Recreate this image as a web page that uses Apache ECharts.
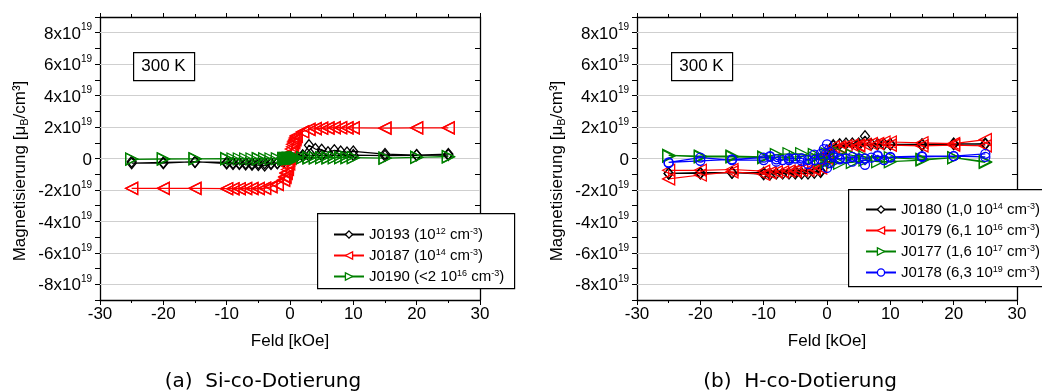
<!DOCTYPE html>
<html><head><meta charset="utf-8">
<script src="https://cdn.jsdelivr.net/npm/echarts@6/dist/echarts.min.js"></script>
<style>html,body{margin:0;padding:0;background:#fff}#c{width:1042px;height:392px}</style>
</head><body><div id="c"></div>
<script>
// ---- data (magnetisation in units of 1e19 muB/cm^3, field in kOe) ----
const xTickValues = [-30, -20, -10, 0, 10, 20, 30];
const yTickValues = [-8, -6, -4, -2, 0, 2, 4, 6, 8];   // labels "N x10^19"
const tempLabel = '300 K';
const captionA = '(a)  Si-co-Dotierung';
const captionB = '(b)  H-co-Dotierung';

// (a) Si-co-Dotierung
const J0193 = [[25,0.28],[20,0.22],[15,0.28],[10,0.45],[9,0.38],[8,0.45],[7,0.52],[6,0.4],[5,0.55],[4,0.6],[3,0.85],[2,0.2],[1,0.1],[0,0],[-1,-0.2],[-2,-0.3],[-3,-0.35],[-4,-0.45],[-5,-0.42],[-6,-0.4],[-7,-0.38],[-8,-0.35],[-9,-0.35],[-10,-0.32],[-15,-0.2],[-20,-0.3],[-25,-0.3],
  [-25,-0.2],[-20,-0.25],[-15,-0.22],[-10,-0.25],[-9,-0.28],[-8,-0.3],[-7,-0.3],[-6,-0.32],[-5,-0.3],[-4,-0.3],[-3,-0.3],[-2,-0.28],[-1,-0.15],[0,0],[1,0.1],[2,0.15],[3,0.18],[5,0.2],[10,0.22],[15,0.18],[20,0.2],[25,0.22]];
const J0187 = [[25,1.95],[20,1.95],[15,1.93],[10,1.95],[9,1.95],[8,1.97],[7,1.97],[6,1.95],[5,1.93],[4,1.9],[3,1.85],[2,1.7],[1,1.45],[0.8,1.3],[0.6,1.1],[0.4,0.9],[0.2,0.6],[0,0.3],[-0.2,-0.1],[-0.4,-0.5],[-0.6,-0.9],[-0.8,-1.2],[-1,-1.4],[-2,-1.65],[-3,-1.8],[-4,-1.9],[-5,-1.92],[-6,-1.92],[-7,-1.92],[-8,-1.92],[-9,-1.93],[-10,-1.92],[-15,-1.9],[-20,-1.9],[-25,-1.9],
  [-25,-1.9],[-20,-1.9],[-15,-1.9],[-10,-1.92],[-9,-1.92],[-8,-1.92],[-7,-1.9],[-6,-1.9],[-5,-1.9],[-4,-1.88],[-3,-1.8],[-2,-1.65],[-1,-1.35],[-0.8,-1.15],[-0.6,-0.95],[-0.4,-0.7],[-0.2,-0.35],[0,0],[0.2,0.4],[0.4,0.75],[0.6,1.0],[0.8,1.2],[1,1.4],[2,1.7],[3,1.85],[4,1.9],[5,1.92],[6,1.93],[7,1.95],[8,1.95],[9,1.95],[10,1.95],[15,1.93],[20,1.95],[25,1.95]];
const J0190 = [[25,0.1],[20,0.08],[15,0.02],[10,0.05],[9,0.05],[8,0.05],[7,0.05],[6,0.04],[5,0.05],[4,0.04],[3,0.04],[2,0.05],[1,0.04],[0.8,0.03],[0.6,0.03],[0.4,0.02],[0.2,0.01],[0,0],[-0.2,0],[-0.4,-0.01],[-0.6,-0.01],[-0.8,-0.02],[-1,-0.02],[-2,-0.02],[-3,-0.03],[-4,-0.02],[-5,-0.03],[-6,-0.03],[-7,-0.03],[-8,-0.03],[-9,-0.03],[-10,-0.02],[-15,-0.02],[-20,-0.04],[-25,-0.05],
  [-25,-0.03],[-20,-0.02],[-15,-0.02],[-10,-0.01],[-5,-0.01],[-1,-0.01],[-0.8,0],[-0.6,0],[-0.4,0.01],[-0.2,0.01],[0,0.02],[0.2,0.02],[0.4,0.03],[0.6,0.03],[0.8,0.04],[1,0.04],[2,0.05],[3,0.05],[4,0.05],[5,0.05],[6,0.05],[7,0.05],[8,0.06],[9,0.06],[10,0.06],[15,0.03],[20,0.07],[25,0.12]];

// (b) H-co-Dotierung
const J0180 = [[25,0.95],[20,0.9],[15,0.85],[10,0.9],[9,0.9],[8,0.9],[7,0.9],[6,1.42],[5,0.95],[4,0.95],[3,0.95],[2,0.9],[1,0.85],[0,0.3],[-1,-0.85],[-2,-0.9],[-3,-0.95],[-4,-0.95],[-5,-0.95],[-6,-0.95],[-7,-0.95],[-8,-0.95],[-9,-1.0],[-10,-1.0],[-15,-0.9],[-20,-0.95],[-25,-0.95],
  [-25,-0.95],[-20,-0.9],[-15,-0.9],[-10,-0.9],[-5,-0.85],[-1,-0.8],[0,0],[1,0.8],[5,0.85],[10,0.9],[15,0.9],[20,0.95],[25,0.9]];
const J0179 = [[25,1.2],[20,0.95],[15,1.0],[10,1.05],[9,1.05],[8,0.95],[7,0.95],[6,0.9],[5,0.85],[4,0.85],[3,0.8],[2,0.75],[1,0.75],[0,0.3],[-1,-0.6],[-2,-0.65],[-3,-0.75],[-4,-0.75],[-5,-0.8],[-6,-0.8],[-7,-0.85],[-8,-0.85],[-9,-0.9],[-10,-1.0],[-15,-0.85],[-20,-1.05],[-25,-1.3],
  [-25,-0.75],[-20,-0.75],[-15,-0.7],[-10,-0.8],[-5,-0.75],[-2,-0.7],[0,0],[2,0.7],[5,0.8],[10,0.85],[15,0.8],[20,0.85],[25,0.8]];
const J0177 = [[25,-0.25],[20,0.05],[15,-0.1],[10,-0.2],[8,-0.2],[6,-0.1],[4,-0.25],[2,-0.3],[1,-0.25],[0,-0.2],[-1,-0.1],[-2,0.05],[-4,0.3],[-6,0.3],[-8,0.25],[-10,0.1],[-15,0.15],[-20,0.15],[-25,0.2],
  [-25,0.15],[-20,0.1],[-15,0.1],[-10,0.05],[-5,0.1],[-2,0.25],[0,0.3],[2,0.35],[4,0.2],[6,0.1],[10,0.05],[15,-0.05],[20,0.05],[25,-0.2]];
const J0178 = [[25,0.3],[20,0.15],[15,0.15],[10,0.1],[9,-0.1],[8,0.2],[7,0.05],[6,-0.4],[5,0.0],[4,-0.2],[3,0.0],[2,-0.05],[1,0.2],[0.5,0.4],[0,0.9],[-0.5,0.6],[-1,0.3],[-2,0.25],[-3,-0.1],[-4,0.0],[-5,0.0],[-6,0.0],[-7,-0.1],[-8,-0.2],[-9,0.1],[-10,-0.1],[-15,-0.1],[-20,0.05],[-25,-0.25],
  [-25,-0.3],[-20,-0.15],[-15,-0.05],[-10,0.05],[-9,0.15],[-8,-0.05],[-6,-0.1],[-4,-0.15],[-3,-0.35],[-2,-0.1],[-1,-0.05],[0,-0.6],[0.5,-0.3],[1,0.1],[2,0.0],[4,0.1],[6,0.0],[8,0.15],[10,0.05],[15,0.1],[20,0.15],[25,0.1]];

const legendA = {J0193:'J0193 (10{s|12} cm{s|-3})', J0187:'J0187 (10{s|14} cm{s|-3})', J0190:'J0190 (<2 10{s|16} cm{s|-3})'};
const legendB = {J0180:'J0180 (1,0 10{s|14} cm{s|-3})', J0179:'J0179 (6,1 10{s|16} cm{s|-3})', J0177:'J0177 (1,6 10{s|17} cm{s|-3})', J0178:'J0178 (6,3 10{s|19} cm{s|-3})'};

// ---- chart ----
const FONT = "'Liberation Sans', Arial, sans-serif";
const chart = echarts.init(document.getElementById('c'), null, {renderer:'canvas'});
const grids = [{left:100, top:17, width:380, height:283}, {left:637, top:17, width:380, height:283}];

function xAxes(g){
  return [{
    gridIndex:g, type:'value', min:-30, max:30, interval:10,
    axisLine:{onZero:false, lineStyle:{color:'#000', width:1.3}},
    axisTick:{inside:false, length:5, lineStyle:{color:'#000'}},
    minorTick:{show:true, splitNumber:2, length:3, lineStyle:{color:'#000'}},
    axisLabel:{fontSize:17, color:'#000', fontFamily:FONT, margin:6},
    splitLine:{show:false},
    name:'Feld [kOe]', nameLocation:'middle', nameGap:33,
    nameTextStyle:{fontSize:17, color:'#000', fontFamily:FONT}
  },{
    gridIndex:g, type:'value', position:'top', min:-30, max:30, interval:10,
    axisLine:{onZero:false, lineStyle:{color:'#000', width:1.3}},
    axisTick:{inside:false, length:4, lineStyle:{color:'#000'}},
    minorTick:{show:true, splitNumber:2, length:3, lineStyle:{color:'#000'}},
    axisLabel:{show:false}, splitLine:{show:false}
  }];
}
function yAxes(g){
  return [{
    gridIndex:g, type:'value', min:-9, max:9, interval:1,
    axisLine:{onZero:false, lineStyle:{color:'#000', width:1.3}},
    axisTick:{inside:false, length:5, lineStyle:{color:'#000'}},
    axisLabel:{margin:8, color:'#000', fontFamily:FONT,
      formatter: v => yTickValues.indexOf(v) < 0 ? '' : (v === 0 ? '{a|0}' : '{a|' + v + 'x10}{s|19}'),
      rich:{a:{fontSize:17, fontFamily:FONT, color:'#000', lineHeight:20, verticalAlign:'bottom'},
            s:{fontSize:10, fontFamily:FONT, color:'#000', lineHeight:10, verticalAlign:'top'}}},
    splitLine:{show:false}
  },{
    gridIndex:g, type:'value', position:'right', min:-9, max:9, interval:1,
    axisLine:{onZero:false, lineStyle:{color:'#000', width:1.3}},
    axisTick:{inside:true, length:5, lineStyle:{color:'#000'}},
    axisLabel:{show:false}, splitLine:{show:false}
  }];
}

function ser(name, data, g, color, symbol, size, rot){
  return {name, type:'line', data, xAxisIndex:g*2, yAxisIndex:g*2,
    symbol, symbolSize:size, symbolRotate:rot||0, showAllSymbol:true,
    lineStyle:{color, width:1.2}, itemStyle:{color:'rgba(255,255,255,0)', borderColor:color, borderWidth:1.3},
    emphasis:{disabled:true}, animation:false, z:3};
}
function gridLines(g){
  return {name:'grid'+g, type:'line', data:[], xAxisIndex:g*2, yAxisIndex:g*2, silent:true, z:1,
    markLine:{silent:true, symbol:'none', z:1, animation:false, label:{show:false},
      lineStyle:{color:'#cfcfcf', type:'solid', width:1.2},
      data: yTickValues.map(v => ({yAxis:v}))}};
}

const legendRich = {s:{fontSize:9, fontFamily:FONT, color:'#000', verticalAlign:'top', lineHeight:9}};
function legend(names, map, left, top){
  return {data:names, left, top, orient:'vertical', itemWidth:30, itemHeight:9, itemGap:6, padding:0, z:20,
    formatter: n => map[n], selectedMode:false,
    itemStyle:{color:'#fff', borderWidth:1.3},
    textStyle:{fontSize:15, color:'#000', fontFamily:FONT, lineHeight:14, rich:legendRich}};
}

function tempBox(x){
  return [
    {type:'rect', left:x, top:52, z:30, shape:{width:61, height:28}, style:{fill:'#fff', stroke:'#000', lineWidth:1.2}},
    {type:'text', x:x+30.5, y:66.5, z:31, style:{text:tempLabel, fontSize:17, fontFamily:FONT, fill:'#000', align:'center', verticalAlign:'middle'}}];
}
const yNameRich = {sub:{fontSize:11, fontFamily:FONT, fill:'#000', verticalAlign:'bottom', lineHeight:20}};
function yName(x){
  return {type:'text', x:x, y:171, rotation:Math.PI/2, z:10,
    style:{text:'Magnetisierung [μ{sub|B}/cm³]', rich:yNameRich, fontSize:17, fontFamily:FONT, fill:'#000', align:'center', verticalAlign:'middle', lineHeight:20}};
}

chart.setOption({
  animation:false,
  grid:grids,
  xAxis:[...xAxes(0), ...xAxes(1)],
  yAxis:[...yAxes(0), ...yAxes(1)],
  legend:[legend(['J0193','J0187','J0190'], legendA, 333, 227),
          legend(['J0180','J0179','J0177','J0178'], legendB, 865, 202)],
  series:[
    gridLines(0), gridLines(1),
    ser('J0193', J0193, 0, '#000', 'diamond', [9,11]),
    ser('J0187', J0187, 0, '#ff0000', 'triangle', 12, 90),
    ser('J0190', J0190, 0, '#008000', 'triangle', 12, -90),
    ser('J0180', J0180, 1, '#000', 'diamond', [9,11]),
    ser('J0179', J0179, 1, '#ff0000', 'triangle', 12, 90),
    ser('J0177', J0177, 1, '#008000', 'triangle', 12, -90),
    ser('J0178', J0178, 1, '#0000ff', 'circle', 9)
  ],
  graphic:[
    {type:'rect', left:317, top:213, z:15, shape:{width:197, height:75}, style:{fill:'#fff', stroke:'#000', lineWidth:1.2}},
    {type:'rect', left:848, top:189, z:15, shape:{width:195, height:97}, style:{fill:'#fff', stroke:'#000', lineWidth:1.2}},
    ...tempBox(133), ...tempBox(671),
    yName(20), yName(557),
    {type:'text', x:263, y:382, z:10, style:{text:captionA, fontSize:20, fontFamily:"'DejaVu Sans', sans-serif", fill:'#000', align:'center', verticalAlign:'middle'}},
    {type:'text', x:800, y:382, z:10, style:{text:captionB, fontSize:20, fontFamily:"'DejaVu Sans', sans-serif", fill:'#000', align:'center', verticalAlign:'middle'}}
  ]
});
</script></body></html>
